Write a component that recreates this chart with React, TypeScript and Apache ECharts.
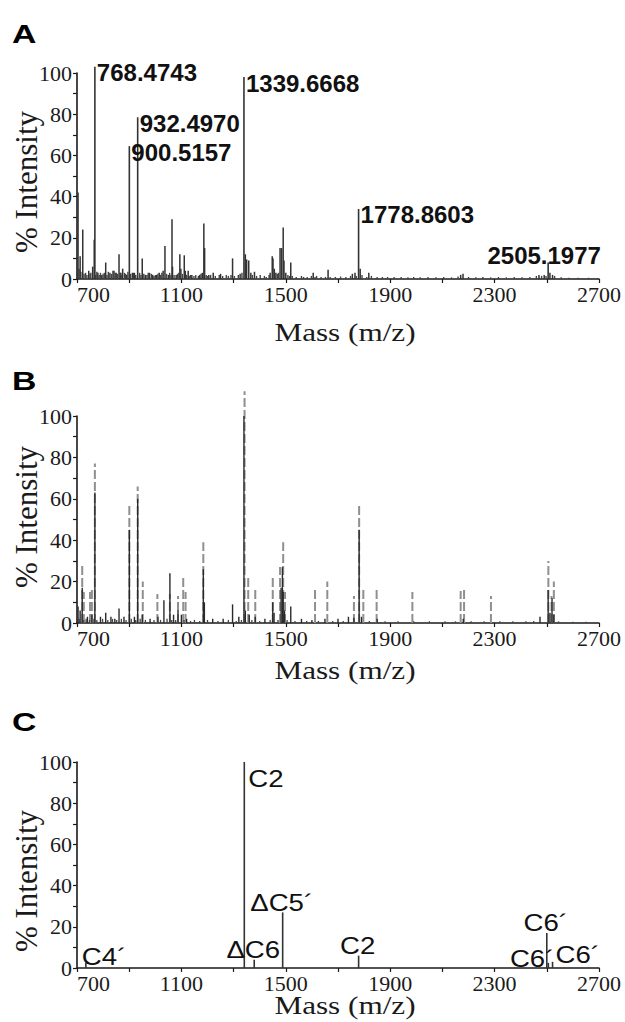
import React, { useEffect, useRef } from "react";
import * as echarts from "echarts";

// ---------- axis ticks ----------
const X_MIN = 700;
const X_MAX = 2700;
const xTickLabels = [700, 1100, 1500, 1900, 2300, 2700];
const xTickMarks = [700, 900, 1100, 1300, 1500, 1700, 1900, 2100, 2300, 2500, 2700];
const yTickLabels = [0, 20, 40, 60, 80, 100];
const yTickMarks = [0, 10, 20, 30, 40, 50, 60, 70, 80, 90, 100];
const xTitle = "Mass (m/z)";
const yTitle = "% Intensity";
const panelNames = ["A", "B", "C"];

// ---------- panel A ----------
const annotatedA: [number, number][] = [
  [768.4743, 103], [932.497, 78.5], [900.5157, 64.5],
  [1339.6668, 98], [1778.8603, 34], [2505.1977, 8],
];
const annotationModeA = ["right", "right", "right", "right", "right", "above"];
const peaksA: [number, number][] = [
  [704, 42], [712, 11], [722, 24], [745, 4], [760, 6], [766, 19], [780, 3], [795, 2],
  [810, 8], [826, 3], [838, 4], [850, 3], [861, 12], [868, 3], [875, 5], [890, 2],
  [912, 3], [920, 3], [950, 10], [962, 2], [978, 3], [990, 2], [1005, 2], [1015, 3],
  [1030, 4], [1037, 16], [1050, 2], [1064, 29], [1066, 6], [1080, 2], [1094, 12],
  [1098, 5], [1111, 11.5], [1115, 4], [1126, 4], [1140, 2], [1170, 2], [1180, 3],
  [1186, 27], [1189, 15], [1205, 2], [1222, 3], [1250, 2.5], [1296, 10], [1325, 2.5],
  [1345, 12], [1350, 9.5], [1358, 9], [1366, 3], [1380, 3.5], [1440, 3], [1448, 11],
  [1451, 10], [1456, 5], [1462, 3], [1478, 15], [1484, 15], [1490, 25], [1493, 9],
  [1500, 3], [1519, 8], [1605, 3], [1662, 4.5], [1755, 2.5], [1765, 3], [1785, 5],
  [1818, 3], [2170, 2], [2179, 2.5], [2470, 2], [2490, 2], [2512, 3], [2522, 2],
];
const noiseA: [number, number][] = [
  [702, 3], [708, 5], [715, 3.5], [727, 2.5], [733, 3], [738, 2], [750, 2.5], [753, 3],
  [772, 2], [776, 3.5], [785, 2], [790, 3], [800, 2.5], [805, 3], [815, 2], [820, 3.5],
  [832, 2.5], [842, 4], [846, 3], [855, 2.5], [865, 3], [872, 2], [882, 3], [886, 2.5],
  [895, 3.5], [905, 2.5], [916, 3], [925, 2], [940, 3], [945, 2], [956, 2.5], [968, 2],
  [973, 3], [985, 2.5], [995, 1.5], [1000, 2], [1010, 2.5], [1020, 2], [1025, 3],
  [1043, 2.5], [1055, 3], [1060, 2], [1072, 2], [1085, 2.5], [1090, 3], [1104, 2.5],
  [1120, 2], [1130, 1.5], [1135, 2], [1148, 1.5], [1155, 2], [1165, 1.5], [1175, 2.5],
  [1195, 2], [1200, 1.5], [1212, 2], [1230, 1.5], [1245, 2], [1258, 1.5], [1272, 2],
  [1280, 1.5], [1290, 2], [1303, 1.5], [1318, 2], [1332, 3], [1372, 2], [1388, 1.5],
  [1402, 2], [1418, 1.5], [1425, 1], [1436, 2], [1468, 2.5], [1472, 3], [1508, 2],
  [1514, 1.5], [1525, 1.5], [1540, 1], [1560, 1.5], [1568, 1], [1582, 1], [1598, 1.5],
  [1612, 1], [1618, 1.5], [1635, 1], [1652, 1], [1670, 1], [1690, 1], [1710, 1.2],
  [1730, 1], [1748, 1.5], [1770, 1.5], [1792, 2], [1810, 1], [1828, 1.5], [1850, 1],
  [1870, 1], [1890, 1], [1915, 1], [1942, 1], [1968, 0.8], [1990, 1], [2015, 0.8],
  [2045, 1], [2075, 0.8], [2105, 1], [2135, 0.8], [2160, 1.2], [2200, 1], [2228, 0.8],
  [2255, 1], [2285, 0.8], [2315, 1], [2345, 0.8], [2375, 1], [2405, 0.8], [2435, 1],
  [2460, 1.5], [2480, 1.5], [2497, 1.5], [2530, 1.5], [2555, 0.8], [2585, 0.6],
  [2620, 0.6], [2660, 0.6], [2695, 0.5],
];

// ---------- panel B ----------
const dashedB: [number, number][] = [
  [720, 29], [726, 15], [750, 15], [757, 16], [768.47, 77], [900.52, 58], [932.5, 66],
  [952, 20], [1008, 14], [1056, 14], [1087, 13], [1107, 22], [1116, 15], [1184, 39],
  [1342, 112], [1356, 22], [1383, 16], [1450, 23], [1478, 27], [1490, 39], [1497, 15],
  [1612, 16], [1659, 20], [1761, 13], [1781, 57], [1797, 16], [1848, 17], [1985, 15],
  [2170, 15.5], [2183, 17], [2286, 13], [2506, 30], [2518, 13], [2527, 20],
];
const solidB: [number, number][] = [
  [704, 8], [712, 6], [720, 17], [740, 3], [757, 4], [768.47, 63], [790, 3], [810, 5],
  [830, 3], [845, 2], [861, 7], [880, 3], [900.52, 45], [920, 3], [932.5, 60], [950, 4],
  [980, 2], [1010, 3], [1033, 11], [1056, 24], [1070, 4], [1087, 6], [1100, 4],
  [1120, 2], [1184, 26], [1188, 10], [1220, 2], [1260, 2], [1296, 9], [1320, 3],
  [1339.67, 100], [1345, 6], [1360, 4], [1383, 3], [1420, 2], [1450, 10], [1455, 5],
  [1482, 17], [1487, 27], [1490, 15], [1495, 6], [1519, 8], [1560, 2], [1600, 1.5],
  [1650, 2], [1700, 2], [1740, 3], [1761, 2.5], [1781, 45], [1790, 3], [1850, 2],
  [2180, 2], [2474, 3], [2505.2, 16], [2512, 5], [2520, 12], [2527, 4],
];
const noiseB: [number, number][] = [
  [708, 2], [726, 1.5], [735, 2], [748, 1.5], [765, 2], [776, 1.5], [798, 2], [818, 1.5],
  [836, 2], [852, 1.5], [870, 2], [888, 1.5], [908, 2], [925, 1.5], [942, 2], [962, 1.5],
  [995, 1.5], [1020, 1.5], [1045, 2], [1063, 1.5], [1078, 1.5], [1110, 1.5], [1135, 1],
  [1150, 1.5], [1170, 1], [1200, 1.5], [1240, 1], [1280, 1.5], [1310, 1], [1330, 1.5],
  [1370, 1.5], [1400, 1], [1440, 1.5], [1470, 1.5], [1505, 1.5], [1535, 1], [1580, 1],
  [1625, 1], [1680, 1], [1720, 1], [1820, 1], [1880, 0.8], [1930, 0.8], [1990, 0.8],
  [2050, 0.8], [2110, 0.8], [2150, 0.8], [2210, 0.8], [2260, 0.8], [2320, 0.8],
  [2370, 0.8], [2420, 0.8], [2450, 1], [2545, 0.8], [2600, 0.6], [2650, 0.6],
];

// ---------- panel C ----------
const peaksC: [number, number][] = [
  [734, 2.5], [1341, 100], [1379, 4], [1488, 27], [1779, 6], [2500, 17], [2506, 2.5], [2522, 3],
];
const labelsC = ["C4\u00b4", "C2", "\u0394C6", "\u0394C5\u00b4", "C2", "C6\u00b4", "C6\u00b4", "C6\u00b4"];
const placementC = ["baseLeft", "topRight", "above", "above", "above", "above", "leftOf", "rightOf"];

const SERIF = "Liberation Serif";
const SANS = "Liberation Sans";
const INK = "#1a1a1a";

// layout (pixels)
const grids = [
  { left: 77, top: 73, width: 522, height: 206, outerBoundsMode: "none", containLabel: false },
  { left: 77, top: 416, width: 522, height: 207, outerBoundsMode: "none", containLabel: false },
  { left: 77, top: 762, width: 522, height: 206, outerBoundsMode: "none", containLabel: false },
];
const xTitleBaselines = [341, 679, 1014];
const yTitleCenters = [182, 517, 881];
const letterTops = [21, 368, 709];

function stickSeries(gi: number, data: [number, number][], style: any, z = 2) {
  return {
    type: "custom",
    xAxisIndex: gi,
    yAxisIndex: gi,
    clip: false,
    silent: true,
    z,
    data,
    renderItem: (_p: any, api: any) => {
      const x = api.value(0);
      const h = api.value(1);
      const a = api.coord([x, 0]);
      const b = api.coord([x, h]);
      return {
        type: "line",
        shape: { x1: a[0], y1: a[1], x2: b[0], y2: b[1] },
        style: { fill: null, ...style },
      };
    },
  };
}

function annotatedSeriesA() {
  const fs = 24;
  return {
    type: "custom",
    xAxisIndex: 0,
    yAxisIndex: 0,
    clip: false,
    silent: true,
    z: 3,
    data: annotatedA,
    renderItem: (params: any, api: any) => {
      const x = api.value(0);
      const h = api.value(1);
      const a = api.coord([x, 0]);
      const b = api.coord([x, h]);
      const mode = annotationModeA[params.dataIndex];
      const text = x.toFixed(4);
      const tx = mode === "right" ? b[0] + 2 : b[0] - 4;
      const ty = mode === "right" ? b[1] - 6 : b[1] + 4.5;
      return {
        type: "group",
        children: [
          {
            type: "line",
            shape: { x1: a[0], y1: a[1], x2: b[0], y2: b[1] },
            style: { stroke: "#333", lineWidth: 1.6 },
          },
          {
            type: "text",
            x: tx,
            y: ty,
            style: {
              text,
              fill: "#111",
              font: `bold ${fs}px "${SANS}"`,
              align: mode === "right" ? "left" : "center",
              verticalAlign: mode === "right" ? "top" : "bottom",
              textAlign: mode === "right" ? "left" : "center",
              textVerticalAlign: mode === "right" ? "top" : "bottom",
            },
          },
        ],
      };
    },
  };
}

function labelledSeriesC() {
  const fs = 23;
  return {
    type: "custom",
    xAxisIndex: 2,
    yAxisIndex: 2,
    clip: false,
    silent: true,
    z: 3,
    data: peaksC,
    renderItem: (params: any, api: any) => {
      const x = api.value(0);
      const h = api.value(1);
      const a = api.coord([x, 0]);
      const b = api.coord([x, h]);
      const mode = placementC[params.dataIndex];
      let tx = b[0];
      let ty = b[1];
      let align = "center";
      let valign = "bottom";
      if (mode === "baseLeft") { tx = a[0] - 4; ty = a[1] + 0.5; align = "left"; }
      else if (mode === "topRight") { tx = b[0] + 4; ty = b[1] + 5; align = "left"; valign = "top"; }
      else if (mode === "above") { tx = b[0] - 1; ty = b[1] + 1.5; }
      else if (mode === "leftOf") { tx = a[0] + 6; ty = a[1] + 2.5; align = "right"; }
      else if (mode === "rightOf") { tx = a[0] + 3; ty = a[1] - 1.5; align = "left"; }
      return {
        type: "group",
        children: [
          {
            type: "line",
            shape: { x1: a[0], y1: a[1], x2: b[0], y2: b[1] },
            style: { stroke: "#333", lineWidth: 1.6 },
          },
          {
            type: "text",
            x: tx,
            y: ty,
            scaleX: 1.2,
            style: {
              text: labelsC[params.dataIndex],
              fill: "#111",
              font: `${fs}px "${SANS}"`,
              align,
              verticalAlign: valign,
              textAlign: align,
              textVerticalAlign: valign,
            },
          },
        ],
      };
    },
  };
}

function xAxisFor(i: number) {
  return {
    type: "value",
    gridIndex: i,
    min: X_MIN,
    max: X_MAX,
    axisLine: { show: true, onZero: false, lineStyle: { color: INK, width: 1.6 } },
    axisTick: { show: true, customValues: xTickMarks, length: 4, lineStyle: { color: INK, width: 1.2 } },
    axisLabel: {
      customValues: xTickLabels,
      formatter: (v: number) => String(v),
      fontFamily: SERIF,
      fontSize: 22,
      color: INK,
      margin: 4,
      alignMinLabel: "left",
    },
    splitLine: { show: false },
  };
}

function yAxisFor(i: number) {
  return {
    type: "value",
    gridIndex: i,
    min: 0,
    max: 100,
    axisLine: { show: true, onZero: false, lineStyle: { color: INK, width: 1.6 } },
    axisTick: { show: true, customValues: yTickMarks, length: 4, lineStyle: { color: INK, width: 1.2 } },
    axisLabel: {
      customValues: yTickLabels,
      formatter: (v: number) => String(v),
      fontFamily: SERIF,
      fontSize: 22,
      color: INK,
      margin: 5,
    },
    splitLine: { show: false },
  };
}

function titles() {
  const out: any[] = [];
  for (let i = 0; i < 3; i++) {
    out.push({
      type: "text",
      x: 12,
      y: letterTops[i],
      scaleX: 1.3,
      style: {
        text: panelNames[i],
        font: `bold 26px "${SANS}"`,
        fill: "#000",
        verticalAlign: "top",
        textVerticalAlign: "top",
      },
    });
    out.push({
      type: "text",
      x: 345,
      y: xTitleBaselines[i] - 9,
      scaleX: 1.2,
      style: {
        text: xTitle,
        font: `26px "${SERIF}"`,
        fill: INK,
        align: "center",
        verticalAlign: "middle",
        textAlign: "center",
        textVerticalAlign: "middle",
      },
    });
    out.push({
      type: "text",
      x: 26,
      y: yTitleCenters[i],
      rotation: Math.PI / 2,
      style: {
        text: yTitle,
        font: `31px "${SERIF}"`,
        fill: INK,
        align: "center",
        verticalAlign: "middle",
        textAlign: "center",
        textVerticalAlign: "middle",
      },
    });
  }
  return out;
}

export default function App() {
  const ref = useRef<HTMLDivElement>(null);
  useEffect(() => {
    document.body.style.margin = "0";
    if (!ref.current) return;
    const chart = echarts.init(ref.current, undefined, { renderer: "svg" });
    const solidStyle = { stroke: "#333", lineWidth: 1.5 };
    chart.setOption({
      animation: false,
      backgroundColor: "#fff",
      textStyle: { fontFamily: SERIF },
      grid: grids,
      xAxis: [0, 1, 2].map(xAxisFor),
      yAxis: [0, 1, 2].map(yAxisFor),
      graphic: titles(),
      series: [
        stickSeries(0, noiseA, { stroke: "#444", lineWidth: 1.4 }),
        stickSeries(0, peaksA, solidStyle),
        annotatedSeriesA(),
        stickSeries(1, dashedB, { stroke: "#8f8f8f", lineWidth: 2, lineDash: [9, 3] }, 2),
        stickSeries(1, noiseB, { stroke: "#444", lineWidth: 1.3 }, 3),
        stickSeries(1, solidB, { stroke: "#2a2a2a", lineWidth: 1.4 }, 3),
        labelledSeriesC(),
      ],
    });
    return () => chart.dispose();
  }, []);
  return <div ref={ref} style={{ width: 625, height: 1022 }} />;
}
